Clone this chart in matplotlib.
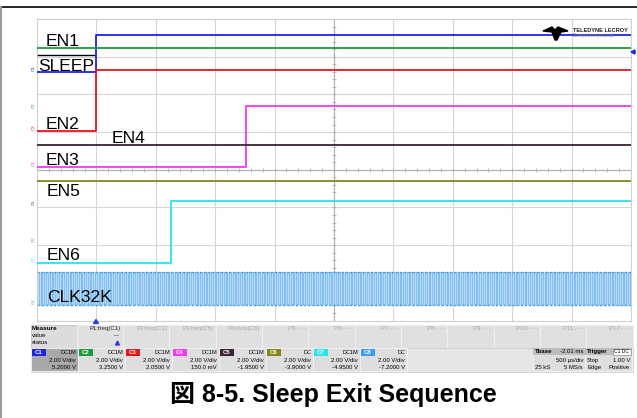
import numpy as np
import matplotlib.pyplot as plt
from matplotlib.patches import Rectangle, Polygon

# scope settings
channels = ['C1', 'C2', 'C3', 'C4', 'C5', 'C6', 'C7', 'C8']
couplings = ['DC1M', 'DC1M', 'DC1M', 'DC1M', 'DC1M', 'DC', 'DC1M', 'DC']
volts_per_div = 2.0
offsets_v = [5.2, 3.25, 2.05, 0.15, -1.95, -3.9, -4.95, -7.2]
offset_texts = ['5.2000 V', '3.2500 V', '2.0500 V', '150.0 mV',
                '-1.9500 V', '-3.9000 V', '-4.9500 V', '-7.2000 V']
colors = ['#1f22e8', '#1c9a3e', '#e8141c', '#f03cf0',
          '#3b2236', '#85861a', '#26e4e8', '#3d9bf0']

# time base: 500 us/div, 10 divisions, trigger one division from the left (ms)
ms_per_div = 0.5
t_start = -0.5

# level before / after the rising edge (V) and edge time (ms), None = flat trace
low_v = [0.0, 3.2, 0.0, 0.0, 3.27, 3.32, 0.0, 0.0]
high_v = [1.94, 3.2, 3.25, 3.23, 3.27, 3.32, 3.27, 1.78]
edge_ms = [0.0, None, 0.0, 1.26, None, None, 0.63, None]
clk_khz = 32.768  # C8 is the free running 32k clock

signal_labels = ['EN1', 'SLEEP', 'EN2', 'EN4', 'EN3', 'EN5', 'EN6', 'CLK32K']
measure_names = ['P1:freq(C1)', 'P2:freq(C1)', 'P3:freq(C8)', 'P4:duty(C8)',
                 'P5:- - -', 'P6:- - -', 'P7:- - -', 'P8:- - -',
                 'P9:- - -', 'P10:- - -', 'P11:- - -', 'P12:- - -']

t_end = t_start + 10 * ms_per_div


def to_div(v, off):
    return 4 + (v + off) / volts_per_div


W, H = 637, 418
fig = plt.figure(figsize=(W / 100, H / 100), dpi=100)
plt.rcParams['font.family'] = ['Liberation Sans', 'DejaVu Sans']

# scope screen
ax = fig.add_axes([37 / W, 1 - 320.5 / H, 594 / W, 301.5 / H])
ax.set_xlim(t_start, t_end)
ax.set_ylim(0, 8)
ax.set_xticks([])
ax.set_yticks([])
for s in ax.spines.values():
    s.set_color('#cfcfcf')
    s.set_linewidth(0.8)
for i in range(1, 10):
    ax.axvline(t_start + i * ms_per_div, color='#d6d6d6', lw=0.8, zorder=0)
for j in range(1, 8):
    ax.axhline(j, color='#d6d6d6', lw=0.8, zorder=0)
tc = t_start + 5 * ms_per_div
ax.axvline(tc, color='#b0b0b0', lw=0.8, zorder=0)
ax.axhline(4, color='#b0b0b0', lw=0.8, zorder=0)
minor_t = np.arange(t_start, t_end, ms_per_div / 5)
minor_y = np.arange(0, 8, 0.2)
ax.plot(minor_t, np.full_like(minor_t, 4), ls='none', marker='|', ms=3, mew=0.6, color='#b0b0b0', zorder=0)
ax.plot(np.full_like(minor_y, tc), minor_y, ls='none', marker='_', ms=3, mew=0.6, color='#b0b0b0', zorder=0)

for k in range(8):
    off = offsets_v[k]
    if k == 7:
        half = 0.5 / clk_khz
        t = np.arange(t_start, t_end + half, half)
        lv = np.where(np.arange(len(t)) % 2 == 0, high_v[k], low_v[k])
        y = to_div(lv, off)
        ax.fill_between([t_start, t_end], to_div(low_v[k], off), to_div(high_v[k], off),
                        color='#b9dbf8', lw=0, zorder=1)
        ax.step(t, y, where='post', color='#5eaef2', lw=0.45, zorder=2)
        ax.plot([t_start, t_end], [to_div(low_v[k], off)] * 2, color=colors[k], lw=1.0,
                ls=(0, (1.5, 1.5)), zorder=2)
        ax.plot([t_start, t_end], [to_div(high_v[k], off)] * 2, color=colors[k], lw=1.0,
                ls=(0, (1.5, 1.5)), zorder=2)
    elif edge_ms[k] is None:
        ax.plot([t_start, t_end], [to_div(low_v[k], off)] * 2, color=colors[k], lw=1.3, zorder=3)
    else:
        ax.plot([t_start, edge_ms[k], edge_ms[k], t_end],
                [to_div(low_v[k], off), to_div(low_v[k], off),
                 to_div(high_v[k], off), to_div(high_v[k], off)],
                color=colors[k], lw=1.3, zorder=3)

# overlay in pixel coordinates for labels and the status panel
ov = fig.add_axes([0, 0, 1, 1], zorder=5)
ov.set_xlim(0, W)
ov.set_ylim(H, 0)
ov.axis('off')

ov.plot([0, W], [7, 7], color='black', lw=1.2)
ov.plot([1, 1], [7, H], color='#9a9a9a', lw=1.5)

label_pos = [(46, 45.5), (38, 71), (46, 129), (112, 143), (46, 165), (47, 196.5), (47, 260), (47, 301.5)]
for name, (x, y) in zip(signal_labels, label_pos):
    ov.text(x, y, name, fontsize=12.6, va='baseline', ha='left', color='black')
ov.plot([38, 94], [55, 55], color='black', lw=1.0)

# channel ground markers on the left edge
for k in range(8):
    gy = 320.5 - to_div(0, offsets_v[k]) * 301.5 / 8
    ov.text(33.5, gy - 1, channels[k], fontsize=3.2, color=colors[k], rotation=90,
            ha='center', va='bottom')
ov.add_patch(Polygon([(631, 52), (635, 50), (635, 54)], color='#1f22e8'))

# logo
ov.add_patch(Polygon([(543, 31), (552, 27), (555, 30), (558, 27), (568, 31),
                      (561, 32), (557, 40), (555, 40), (552, 32)], color='black'))
ov.text(573, 30, 'TELEDYNE LECROY', fontsize=4.1, fontweight='bold', va='center', ha='left',
        color='#222222')
ov.text(573, 35.5, 'Everywhereyoulook', fontsize=3.4, va='center', ha='left', color='#777777')

# trigger position marker
ov.add_patch(Polygon([(93.5, 323.5), (98.5, 323.5), (96, 319.5)], color='#2a3fe0'))

# measure row
ov.add_patch(Rectangle((30.5, 324.5), 602, 23, fc='#dcdcdc', ec='#c4c4c4', lw=0.6))
ov.text(32, 328.5, 'Measure', fontsize=4.6, fontweight='bold', va='center')
ov.text(32, 335.5, 'value', fontsize=4.3, va='center')
ov.text(32, 343, 'status', fontsize=4.3, va='center')
cw = (632.5 - 76.5) / 12
for i, name in enumerate(measure_names):
    x0 = 76.5 + i * cw
    ov.add_patch(Rectangle((x0, 324.5), cw, 23, fc='#e0e0e0', ec='#f2f2f2', lw=0.6))
    ov.text(x0 + cw - 2, 328.5, name, fontsize=4.3, ha='right', va='center',
            color='#222222' if i == 0 else '#a9a9a9')
ov.text(76.5 + cw - 3, 335.5, '---', fontsize=4.3, ha='right', va='center')
ov.add_patch(Polygon([(115.5, 345), (119.5, 345), (117.5, 341)], color='#2a3fe0'))

# channel row
ov.add_patch(Rectangle((30.5, 347.5), 602, 24, fc='#e6e6e6', ec='#d0d0d0', lw=0.6))
for k in range(8):
    x0 = 31 + k * 47
    ov.add_patch(Rectangle((x0, 348), 47, 23, fc='#a9a9a9' if k == 0 else '#dedede',
                           ec='#f4f4f4', lw=0.6))
    ov.add_patch(Rectangle((x0 + 1, 349), 14, 7, fc=colors[k], lw=0))
    ov.text(x0 + 8, 352.5, channels[k], fontsize=4.3, fontweight='bold', color='white',
            ha='center', va='center')
    ov.text(x0 + 45, 352.5, couplings[k], fontsize=4.0, ha='right', va='center')
    ov.text(x0 + 45, 360.5, '%.2f V/div' % volts_per_div, fontsize=4.3, ha='right', va='center')
    ov.text(x0 + 45, 367.5, offset_texts[k], fontsize=4.3, ha='right', va='center')

# timebase and trigger boxes
ov.add_patch(Rectangle((533, 348), 52, 23, fc='#dedede', ec='#f4f4f4', lw=0.6))
ov.add_patch(Rectangle((533, 348), 52, 7, fc='#bdbdbd', lw=0))
ov.text(535, 351.5, 'Tbase', fontsize=4.4, fontweight='bold', va='center')
ov.text(583, 351.5, '-2.01 ms', fontsize=4.3, ha='right', va='center')
ov.text(583, 360.5, '%d µs/div' % (ms_per_div * 1000), fontsize=4.3, ha='right', va='center')
ov.text(535, 367.5, '25 kS', fontsize=4.3, va='center')
ov.text(583, 367.5, '5 MS/s', fontsize=4.3, ha='right', va='center')
ov.add_patch(Rectangle((585, 348), 47, 23, fc='#dedede', ec='#f4f4f4', lw=0.6))
ov.add_patch(Rectangle((585, 348), 47, 7, fc='#bdbdbd', lw=0))
ov.text(587, 351.5, 'Trigger', fontsize=4.4, fontweight='bold', va='center')
ov.add_patch(Rectangle((613, 348.8), 18, 5.8, fc='white', ec='#888888', lw=0.5))
ov.text(622, 351.7, 'C1 DC', fontsize=3.6, ha='center', va='center')
ov.text(587, 360.5, 'Stop', fontsize=4.3, va='center')
ov.text(630, 360.5, '1.00 V', fontsize=4.3, ha='right', va='center')
ov.text(587, 367.5, 'Edge', fontsize=4.3, va='center')
ov.text(630, 367.5, 'Positive', fontsize=4.3, ha='right', va='center')

# caption
ov.text(333, 402, '図 8-5. Sleep Exit Sequence', fontsize=18, fontweight='bold',
        ha='center', va='baseline', family=['Liberation Sans', 'Noto Sans CJK JP'])

fig.savefig('out.png', dpi=100)
